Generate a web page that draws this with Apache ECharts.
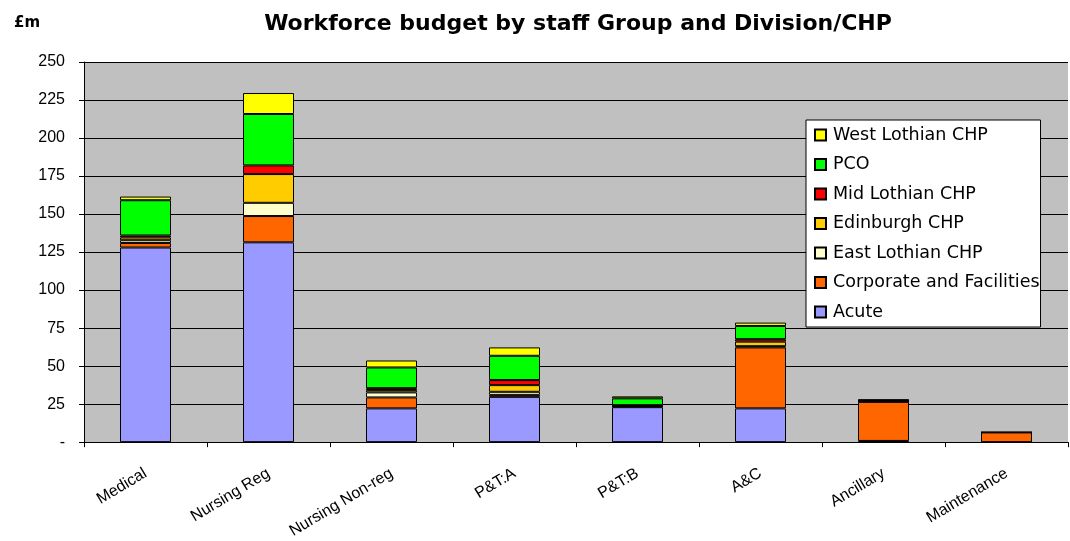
<!DOCTYPE html>
<html><head><meta charset="utf-8">
<script src="https://cdn.jsdelivr.net/npm/echarts@6/dist/echarts.min.js"></script>
<style>html,body{margin:0;padding:0;background:#fff}#c{width:1070px;height:541px}</style>
</head><body><div id="c"></div>
<script>
var categories = ['Medical','Nursing Reg','Nursing Non-reg','P&T:A','P&T:B','A&C','Ancillary','Maintenance'];
var acute      = [128, 131.4, 22.2, 29.8, 23, 22.2, 0.8, 0];
var corporate  = [3, 17.3, 7.2, 1.3, 0.5, 40.1, 25.7, 6.4];
var eastLothian= [1.8, 8.7, 3.3, 2, 0.3, 0.8, 0.3, 0];
var edinburgh  = [1.8, 18.9, 1.5, 4.4, 0.3, 3, 0.3, 0];
var midLothian = [1.3, 5.7, 1.3, 3.3, 0.2, 1.6, 0.2, 0];
var pco        = [23.2, 33.8, 13.6, 16, 4.5, 8.7, 0.3, 0];
var westLothian= [2.4, 13.8, 4.6, 5.5, 1.3, 2.2, 0.4, 0];
var yTicks = [0,25,50,75,100,125,150,175,200,225,250];

var seriesDefs = [
  ['Acute', acute, '#9999FF'],
  ['Corporate and Facilities', corporate, '#FF6600'],
  ['East Lothian CHP', eastLothian, '#FFFFCC'],
  ['Edinburgh CHP', edinburgh, '#FFCC00'],
  ['Mid Lothian CHP', midLothian, '#FF0000'],
  ['PCO', pco, '#00FF00'],
  ['West Lothian CHP', westLothian, '#FFFF00']
];
var chart = echarts.init(document.getElementById('c'));
chart.setOption({
  animation: false,
  textStyle: {fontFamily: 'Liberation Sans, Arial, sans-serif'},
  title: [{text: 'Workforce budget by staff Group and Division/CHP', left: 573, top: 8, textAlign: 'center',
           textStyle: {fontSize: 22, fontWeight: 'bold', color: '#000', fontFamily: 'DejaVu Sans'}},
          {text: '£m', left: 9, top: 11, textStyle: {fontSize: 15, fontWeight: 'bold', color: '#000', fontFamily: 'DejaVu Sans'}}],
  grid: {left: 84, right: 2, top: 62, bottom: 98, backgroundColor: '#C0C0C0', show: true, borderWidth: 0},
  legend: {
    data: ['West Lothian CHP','PCO','Mid Lothian CHP','Edinburgh CHP','East Lothian CHP','Corporate and Facilities','Acute'],
    orient: 'vertical', left: 806, top: 120,
    backgroundColor: '#fff', borderColor: '#000', borderWidth: 1,
    padding: [6, 1, 6, 8], itemGap: 11.5, itemWidth: 11, itemHeight: 11,
    icon: 'rect',
    textStyle: {fontSize: 17.5, color: '#000', fontFamily: 'DejaVu Sans', padding: [0,0,0,2]}
  },
  xAxis: {
    type: 'category', data: categories,
    axisLine: {lineStyle: {color: '#000', width: 1}},
    axisTick: {show: true, length: 5, lineStyle: {color: '#000'}},
    axisLabel: {rotate: 31, fontSize: 16, color: '#000', margin: 30, interval: 0},
    splitLine: {show: false}
  },
  yAxis: {
    type: 'value', min: 0, max: 250, interval: 25,
    axisLine: {show: true, lineStyle: {color: '#000'}},
    axisTick: {show: true, length: 5, lineStyle: {color: '#000'}},
    axisLabel: {fontSize: 16, color: '#000', margin: 19,
      formatter: function(v){ return v === yTicks[0] ? '-' : String(v); }},
    splitLine: {show: true, lineStyle: {color: '#000', width: 1}}
  },
  series: seriesDefs.map(function(d){
    return {name: d[0], type: 'bar', stack: 'total', data: d[1], barWidth: 51,
      itemStyle: {color: d[2], borderColor: '#000', borderWidth: 1}};
  })
});
</script></body></html>
